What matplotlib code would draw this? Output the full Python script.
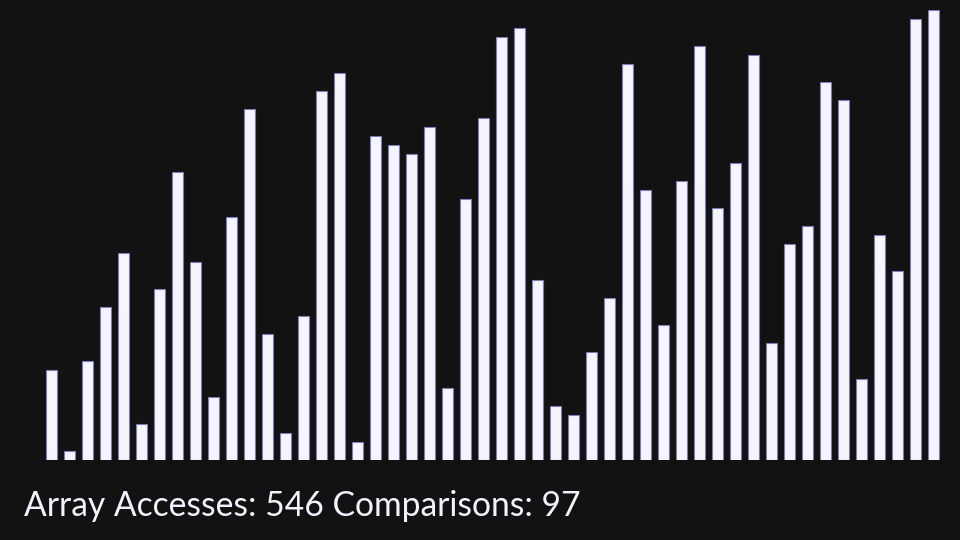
#Bar chart of an array part way through a sort, with access / comparison counters
import numpy as np
import matplotlib
matplotlib.use("Agg")
import matplotlib.pyplot as plt

#Values of the array (one bar each)
values = [10, 1, 11, 17, 23, 4, 19, 32, 22, 7,
          27, 39, 14, 3, 16, 41, 43, 2, 36, 35,
          34, 37, 8, 29, 38, 47, 48, 20, 6, 5,
          12, 18, 44, 30, 15, 31, 46, 28, 33, 45,
          13, 24, 26, 42, 40, 9, 25, 21, 49, 50]
array_accesses = 546
comparisons = 97

#Colours
bg = "#121212"
bar_fill = "#f5f5ff"
bar_edge = "#7d7dbf"
text_col = "#f3f3ff"

fig = plt.figure(figsize=(9.6, 5.4), dpi=100)
fig.patch.set_facecolor(bg)

#axes placed so that one unit of x is one bar slot (18 px) and one unit of y is 9 px
ax = fig.add_axes([42.5/960, 80/540, 900/960, 450/540])
ax.set_facecolor(bg)
x = np.arange(len(values))
ax.bar(x, values, width=0.6, color=bar_fill, edgecolor=bar_edge, linewidth=0.8)
ax.set_xlim(-0.5, len(values) - 0.5)
ax.set_ylim(0, 50)
ax.axis("off")

fig.text(24/960, 1 - 516/540, "Array Accesses: " + str(array_accesses) + " Comparisons: " + str(comparisons),
         color=text_col, fontsize=24.2, family="Lato", ha="left", va="baseline")

fig.savefig("out.png", dpi=100, facecolor=bg)
